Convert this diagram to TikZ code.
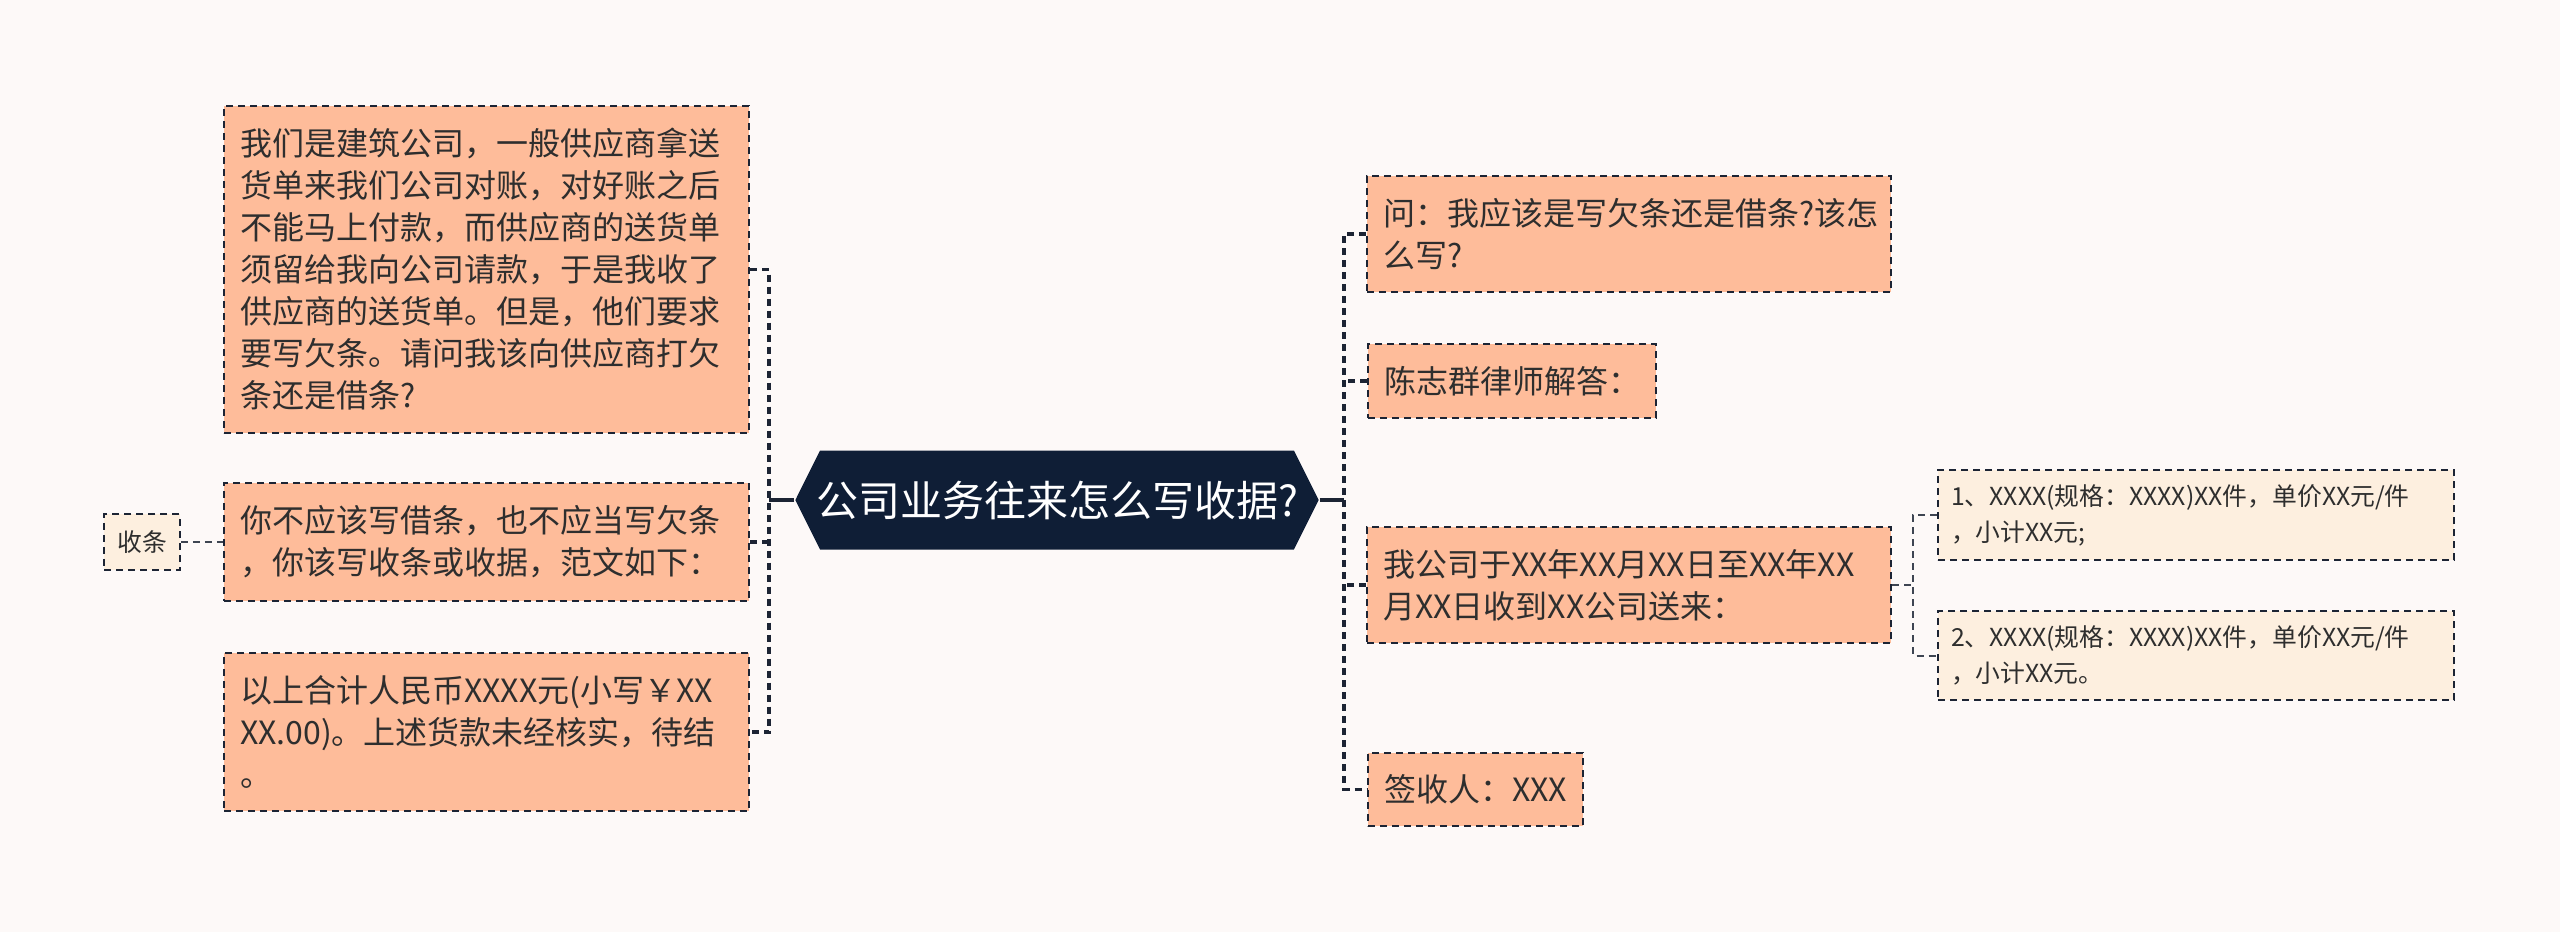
\documentclass[tikz,border=0pt]{standalone}
\usepackage{fontspec}
\setmainfont{Noto Sans CJK SC}
\usetikzlibrary{shapes.symbols}
\definecolor{bgcol}{HTML}{FDF9F8}
\definecolor{topicfill}{HTML}{FEBC9A}
\definecolor{subfill}{HTML}{FDEFDF}
\definecolor{rootfill}{HTML}{0F1E36}
\definecolor{linecol}{HTML}{1C2434}
\definecolor{textcol}{HTML}{2E2E2E}

\begin{document}
\begin{tikzpicture}[x=0.25pt, y=-0.25pt,
	topic/.style={draw=linecol, dash pattern=on 1.75pt off 1.25pt, line width=0.5pt, fill=topicfill,
		font=\fontsize{8}{10.5}\selectfont, inner xsep=4pt, align=left, text=textcol},
	item/.style={topic, fill=subfill, font=\fontsize{6.2}{9}\selectfont, inner xsep=3.25pt},
	root/.style={signal, signal to=west and east, signal pointer angle=127, fill=rootfill, text=white,
		minimum height=24.75pt, inner xsep=-1pt, font=\fontsize{10.5}{12}\selectfont},
	trunk/.style={draw=linecol, line width=0.9pt},
	branch/.style={draw=linecol, line width=0.9pt, dash pattern=on 1.75pt off 1.25pt},
	twig/.style={draw=linecol!85, line width=0.5pt, dash pattern=on 1.75pt off 1.25pt}]
		\fill[bgcol] (0,0) rectangle (2560,932);
		\useasboundingbox (0,0) rectangle (2560,932);
		
		\node[root] (root) at (1057,500) {公司业务往来怎么写收据?};
		
		\node[topic, text width=123.25pt, minimum height=81.75pt] (q) at (486.5,269.5) {我们是建筑公司，一般供应商拿送\\货单来我们公司对账，对好账之后\\不能马上付款，而供应商的送货单\\须留给我向公司请款，于是我收了\\供应商的送货单。但是，他们要求\\要写欠条。请问我该向供应商打欠\\条还是借条?};
		\node[topic, text width=123.25pt, minimum height=29.5pt] (a) at (486.5,542) {你不应该写借条，也不应当写欠条\\，你该写收条或收据，范文如下：};
		\node[topic, text width=123.25pt, minimum height=39.5pt] (sum) at (486.5,732) {以上合计人民币XXXX元(小写￥XX\\XX.00)。上述货款未经核实，待结\\。};
		\node[item, minimum height=14pt] (shoutiao) at (142,542) {收条};
		
		\node[topic, text width=123pt, minimum height=29pt] (ask) at (1629,234) {问：我应该是写欠条还是借条?该怎\\么写?};
		\node[topic, anchor=west, minimum height=18.5pt] (lawyer) at (1367,381) {陈志群律师解答：};
		\node[topic, text width=123pt, minimum height=29pt] (recv) at (1629,585) {我公司于XX年XX月XX日至XX年XX\\月XX日收到XX公司送来：};
		\node[topic, anchor=west, minimum height=18.25pt] (sign) at (1367,789.5) {签收人：XXX};
		
		\node[item, text width=122.5pt, minimum height=22.5pt] (item1) at (2196,515) {1、XXXX(规格：XXXX)XX件，单价XX元/件\\，小计XX元;};
		\node[item, text width=122.5pt, minimum height=22.25pt] (item2) at (2196,655.5) {2、XXXX(规格：XXXX)XX件，单价XX元/件\\，小计XX元。};
		
		\coordinate (lb) at (769,500);
		\coordinate (rb) at (1344,500);
		\coordinate (sb) at (1913,585);
		
		\draw[trunk] (root.west) -- (lb);
		\draw[trunk] (root.east) -- (rb);
		\draw[branch] (q.east) -| (lb) |- (sum.east);
		\draw[branch] (a.east) -- (a.east -| lb);
		\draw[branch] (ask.west) -| (rb) |- (sign.west);
		\draw[branch] (lawyer.west) -- (lawyer.west -| rb);
		\draw[branch] (recv.west) -- (recv.west -| rb);
		\draw[twig] (shoutiao.east) -- (a.west);
		\draw[twig] (recv.east) -- (sb);
		\draw[twig] (item1.west) -| (sb) |- (item2.west);
	\end{tikzpicture}
\end{document}
